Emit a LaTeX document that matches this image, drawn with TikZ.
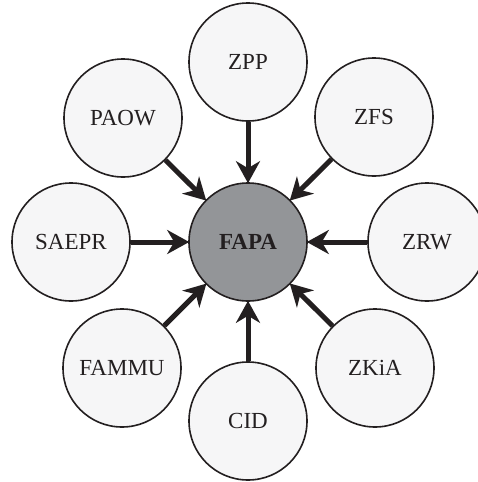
\documentclass[tikz,border=0pt]{standalone}
\usepackage{fontspec}
\setmainfont{Liberation Serif}
\usetikzlibrary{arrows.meta}
\definecolor{ink}{HTML}{231F20}
\definecolor{outerfill}{HTML}{F6F6F7}
\definecolor{hubfill}{HTML}{939598}
\tikzset{
  outer/.style={circle, draw=ink, line width=1.6pt, fill=outerfill, minimum size=118pt, inner sep=0pt, text=ink, font=\fontsize{23}{26}\selectfont},
  hub/.style={outer, fill=hubfill, font=\fontsize{23}{26}\selectfont\bfseries},
  link/.style={draw=ink, line width=5pt, -{Stealth[length=22pt,width=24pt,inset=7pt]}, shorten >=-1pt}
}
\begin{document}
\begin{tikzpicture}[x=1pt,y=-1pt]
\useasboundingbox (0,0) rectangle (478,482);
\begin{scope}
\clip (0,0) rectangle (478,482);
\node[hub] (fapa) at (248,242) {FAPA};
\node[outer] (zpp) at (248,62) {ZPP};
\node[outer] (zfs) at (374,117) {ZFS};
\node[outer] (zrw) at (427,242) {ZRW};
\node[outer] (zkia) at (375,368) {ZKiA};
\node[outer] (cid) at (248,421) {CID};
\node[outer] (fammu) at (122,368) {FAMMU};
\node[outer] (saepr) at (71,242) {SAEPR};
\node[outer] (paow) at (123,118) {PAOW};
\foreach \n in {zpp,zfs,zrw,zkia,cid,fammu,saepr,paow}
  \draw[link] (\n) -- (fapa);
\end{scope}
\end{tikzpicture}
\end{document}
